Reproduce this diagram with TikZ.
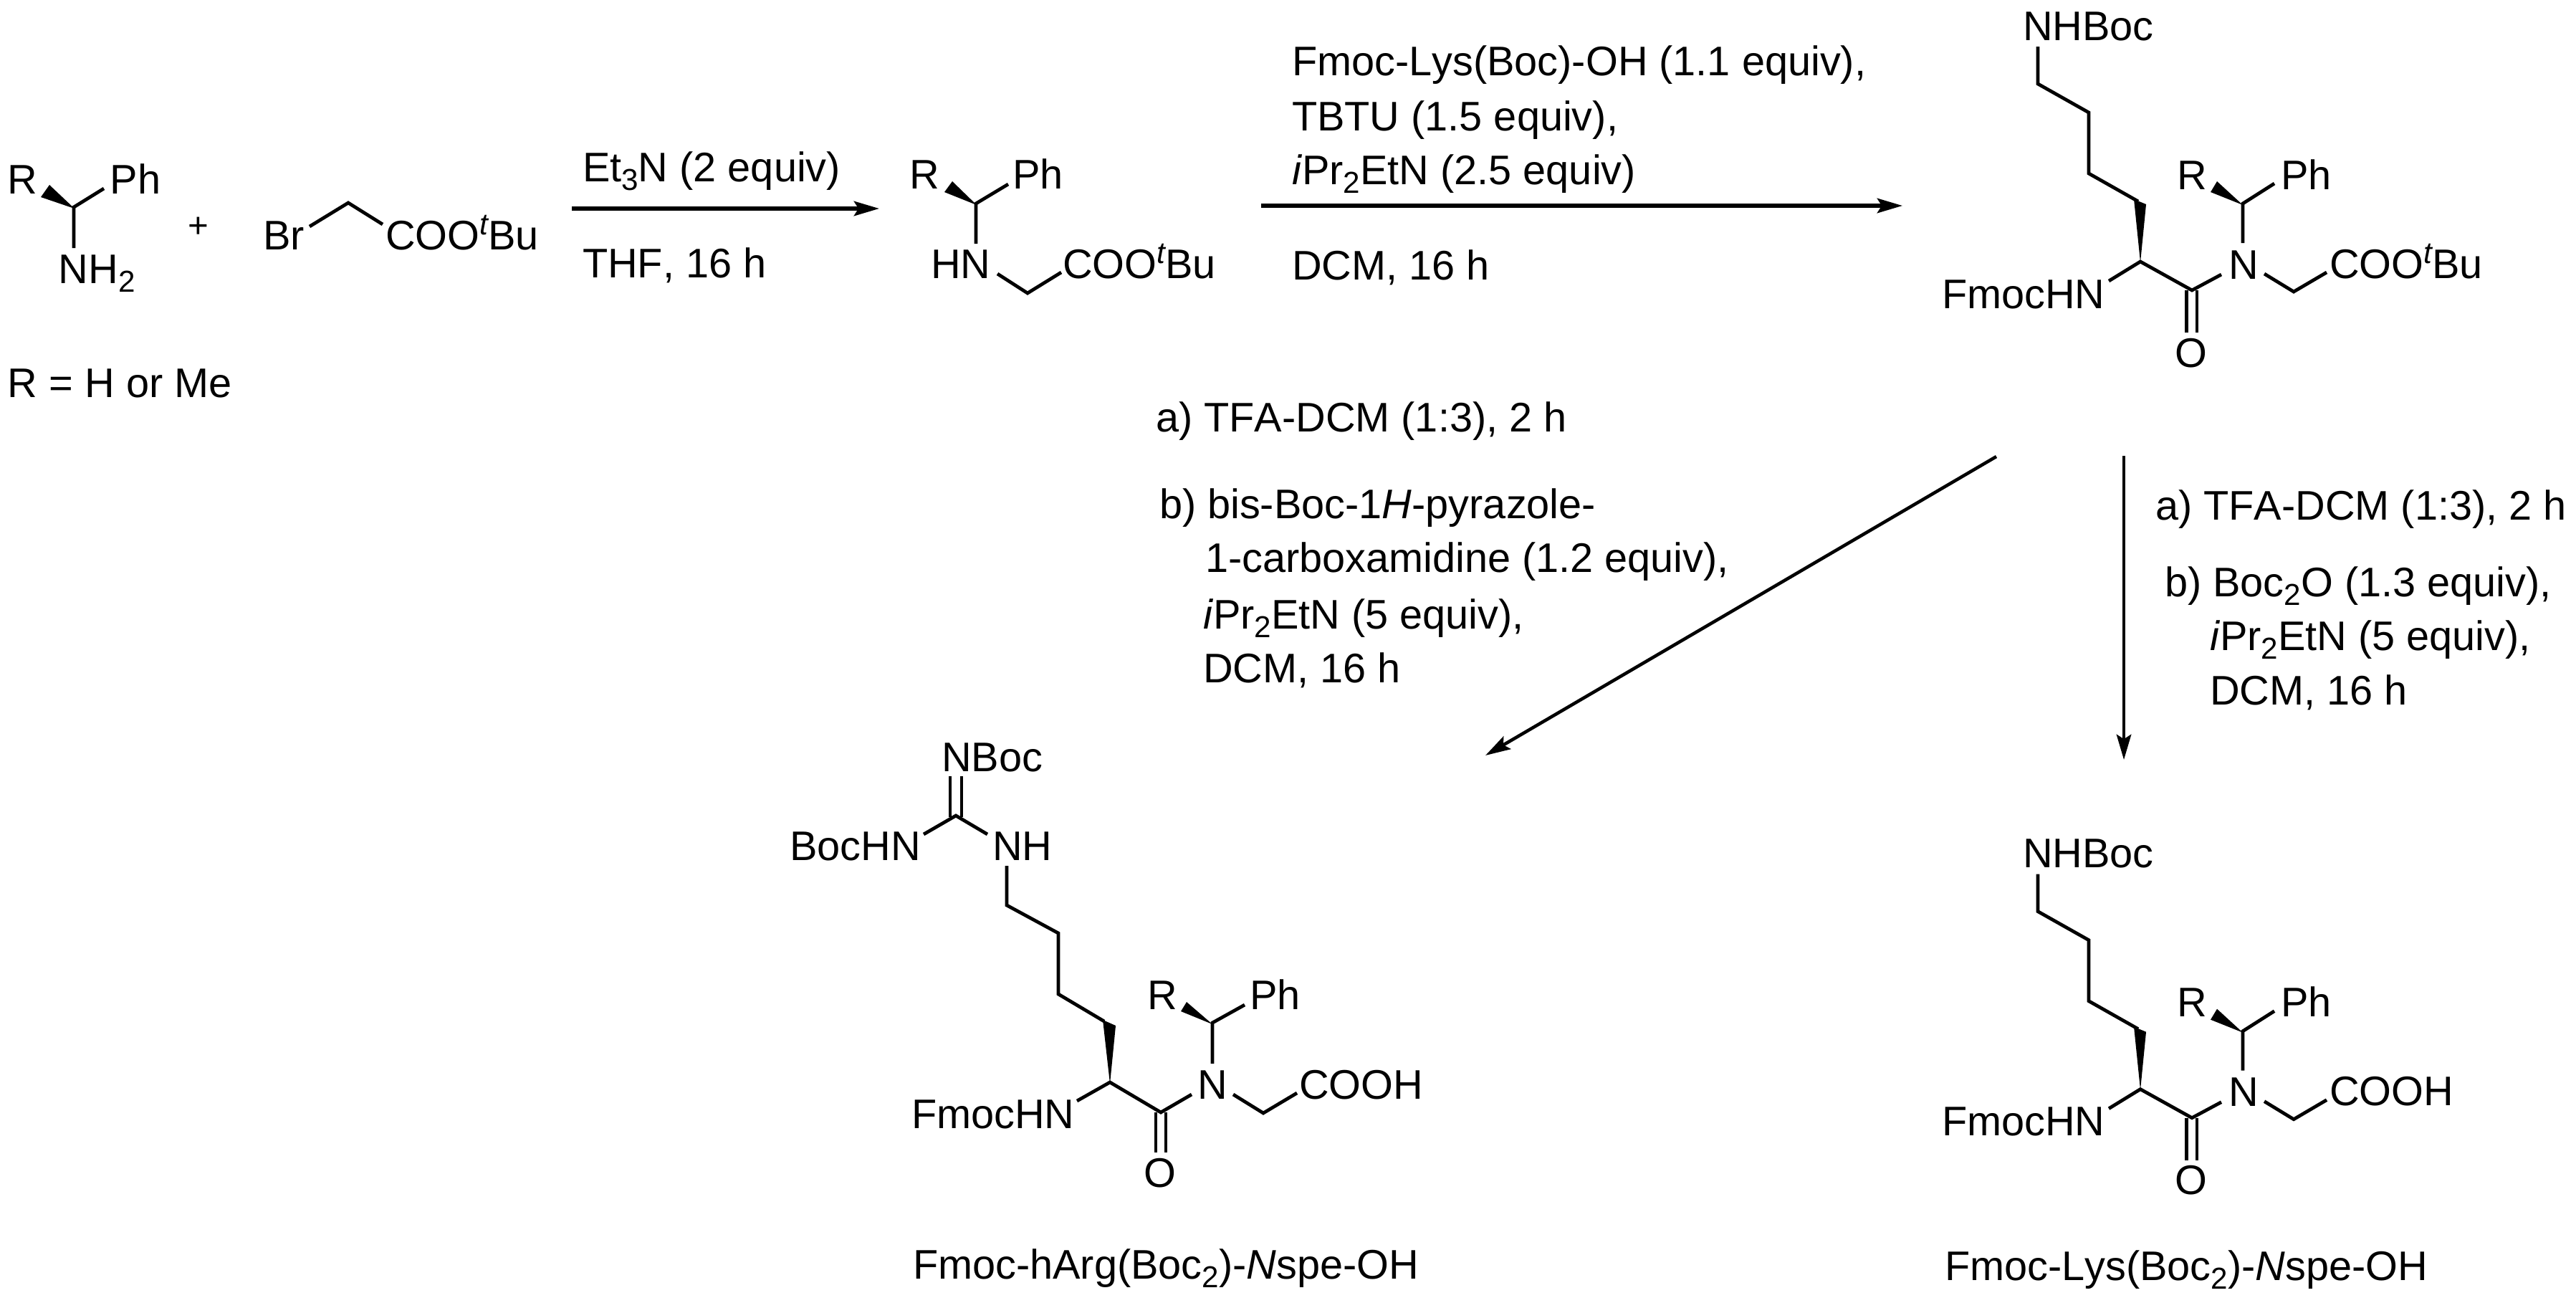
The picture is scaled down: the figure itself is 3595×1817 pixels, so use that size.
\documentclass[tikz,border=0pt]{standalone}
\usepackage{fontspec}
\setmainfont[Kerning=Off]{Liberation Sans}
\usetikzlibrary{arrows.meta}
\newcommand\sbs[1]{\raisebox{-0.21em}{\fontsize{12}{12}\selectfont #1}}
\newcommand\sps[1]{\raisebox{0.36em}{\fontsize{12}{12}\selectfont\itshape #1}}
\tikzset{
  lab/.style={anchor=base west,inner sep=0pt,outer sep=0pt,xshift=-0.04cm,font=\fontsize{16.4}{19}\selectfont},
  pluslab/.style={anchor=base west,inner sep=0pt,outer sep=0pt,font=\fontsize{14}{16}\selectfont},
  bond/.style={line width=1.35pt,line join=miter},
  wedgeb/.style={fill=black,draw=none},
  rxn/.style={line width=1.45pt,-{Stealth[length=10pt,width=5.8pt,inset=1.8pt]}},
  rxnthin/.style={line width=1.3pt,-{Stealth[length=10pt,width=5.8pt,inset=1.8pt]}},
}
% shared lysine fragment (chain, stereocentres, amide, CH2)
\newcommand\lysunit[2]{%
  \node[lab] (#1nhboc) at (2827,56) {NHBoc};
  \node[lab] (#1fmoc) at (2714,430) {FmocHN};
  \node[lab] (#1r) at (3042,264) {R};
  \node[lab] (#1ph) at (3187,264) {Ph};
  \node[lab] (#1n) at (3114,389) {N};
  \node[lab] (#1o) at (3039,512) {O};
  \node[lab] (#1acid) at (3255,388) {#2};
  \draw[bond] (2844,65) -- (2844,117) -- (2915,157) -- (2915,242) -- (2984,281);
  \fill[wedgeb] (2978,278) -- (2995,285) -- (2987,366) -- cycle;
  \draw[bond] (2943,392) -- (2987,365) -- (3059,405) -- (3100,383);
  \draw[bond] (3051.5,405) -- (3051.5,464);
  \draw[bond] (3066,405) -- (3066,464);
  \fill[wedgeb] (3130,286) -- (3094,253) -- (3085,268) -- cycle;
  \draw[bond] (3174,256) -- (3130,284) -- (3130,339);
  \draw[bond] (3160,382) -- (3201,407) -- (3247,380);
}
\begin{document}
\begin{tikzpicture}[x=0.01cm,y=-0.01cm]
\useasboundingbox (0,0) rectangle (3595,1817);
% --- amine
\node[lab] (r1) at (15,270) {R};
\node[lab] (ph1) at (158,270) {Ph};
\node[lab] (nh2) at (86,395) {NH\sbs{2}};
\fill[wedgeb] (104,291) -- (69,258) -- (57,275) -- cycle;
\draw[bond] (145,263) -- (103,289) -- (103,346);
\node[pluslab] (plus) at (262,331) {+};
\node[lab] (r2) at (15,554) {R = H or Me};
% --- bromoacetate
\node[lab] (br) at (371,348) {Br};
\node[lab] (coo1) at (542,348) {COO\sps{t}Bu};
\draw[bond] (432,316) -- (486,283) -- (534,313);
% --- step 1
\coordinate (a1s) at (798,291); \coordinate (a1e) at (1227,291);
\draw[rxn] (a1s) -- (a1e);
\node[lab] (et3n) at (817,253) {Et\sbs{3}N (2 equiv)};
\node[lab] (thf) at (817,387) {THF, 16 h};
% --- secondary amine
\node[lab] (r3) at (1273,263) {R};
\node[lab] (ph3) at (1417,263) {Ph};
\node[lab] (hn3) at (1303,388) {HN};
\node[lab] (coo3) at (1487,388) {COO\sps{t}Bu};
\fill[wedgeb] (1363,286) -- (1329,253) -- (1318,268) -- cycle;
\draw[bond] (1407,257) -- (1362,284) -- (1362,340);
\draw[bond] (1392,382) -- (1434,409) -- (1481,380);
% --- step 2
\coordinate (a2s) at (1760,287); \coordinate (a2e) at (2655,287);
\draw[rxn] (a2s) -- (a2e);
\node[lab] (s2a) at (1807,105) {Fmoc-Lys(Boc)-OH (1.1 equiv),};
\node[lab] (s2b) at (1807,182) {TBTU (1.5 equiv),};
\node[lab] (s2c) at (1807,257) {\textit{i}Pr\sbs{2}EtN (2.5 equiv)};
\node[lab] (s2d) at (1807,390) {DCM, 16 h};
% --- protected ester (top right)
\lysunit{e}{COO\sps{t}Bu}
% --- diagonal arrow
\coordinate (a3s) at (2786,637); \coordinate (a3e) at (2073,1054);
\draw[rxnthin] (a3s) -- (a3e);
\node[lab] (d1) at (1617,602) {a) TFA-DCM (1:3), 2 h};
\node[lab] (d2) at (1622,723) {b) bis-Boc-1\textit{H}-pyrazole-};
\node[lab] (d3) at (1686,798) {1-carboxamidine (1.2 equiv),};
\node[lab] (d4) at (1683,877) {\textit{i}Pr\sbs{2}EtN (5 equiv),};
\node[lab] (d5) at (1683,952) {DCM, 16 h};
% --- vertical arrow
\coordinate (a4s) at (2964,636); \coordinate (a4e) at (2964,1060);
\draw[rxnthin] (a4s) -- (a4e);
\node[lab] (v1) at (3012,725) {a) TFA-DCM (1:3), 2 h};
\node[lab] (v2) at (3025,832) {b) Boc\sbs{2}O (1.3 equiv),};
\node[lab] (v3) at (3088,907) {\textit{i}Pr\sbs{2}EtN (5 equiv),};
\node[lab] (v4) at (3088,983) {DCM, 16 h};
% --- hArg product
\node[lab] (nboc) at (1318,1076) {NBoc};
\node[lab] (bochn) at (1106,1200) {BocHN};
\node[lab] (nh) at (1389,1200) {NH};
\draw[bond] (1326,1083) -- (1326,1140);
\draw[bond] (1342,1083) -- (1342,1140);
\draw[bond] (1289,1164) -- (1334,1138) -- (1378,1164);
\draw[bond] (1405,1208) -- (1405,1263) -- (1477,1302) -- (1477,1387) -- (1541,1425);
\fill[wedgeb] (1539,1423) -- (1557,1431) -- (1549,1512) -- cycle;
\node[lab] (fmoc2) at (1276,1574) {FmocHN};
\node[lab] (r4) at (1605,1408) {R};
\node[lab] (ph4) at (1748,1408) {Ph};
\node[lab] (n4) at (1675,1533) {N};
\node[lab] (o4) at (1600,1656) {O};
\node[lab] (cooh4) at (1817,1533) {COOH};
\draw[bond] (1503,1536) -- (1549,1510) -- (1620,1552) -- (1663,1527);
\draw[bond] (1613,1552) -- (1613,1608);
\draw[bond] (1627,1552) -- (1627,1608);
\fill[wedgeb] (1692,1429) -- (1656,1398) -- (1648,1411) -- cycle;
\draw[bond] (1737,1402) -- (1692,1427) -- (1692,1484);
\draw[bond] (1721,1527) -- (1763,1553) -- (1810,1525);
\node[lab] (lab1) at (1278,1784) {Fmoc-hArg(Boc\sbs{2})-\textit{N}spe-OH};
% --- Lys product
\begin{scope}[yshift=-11.54cm]
\lysunit{p}{COOH}
\end{scope}
\node[lab] (lab2) at (2718,1786) {Fmoc-Lys(Boc\sbs{2})-\textit{N}spe-OH};
\end{tikzpicture}
\end{document}
